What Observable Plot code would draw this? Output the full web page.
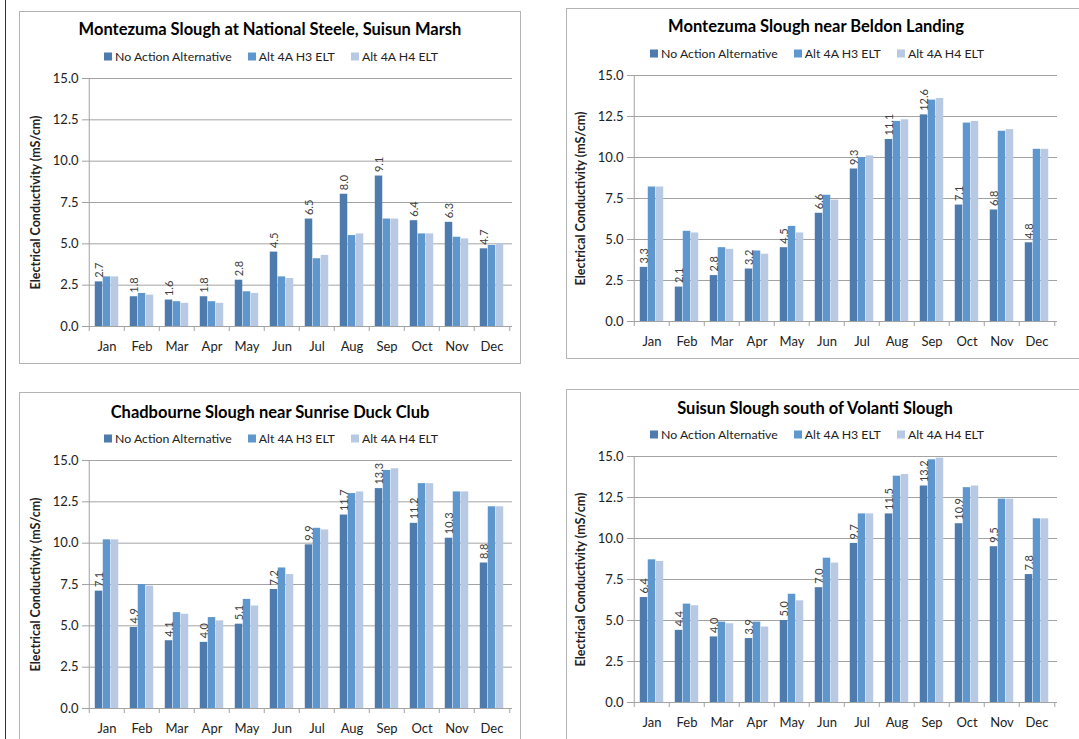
<!DOCTYPE html>
<html><head><meta charset="utf-8">
<script src="https://cdn.jsdelivr.net/npm/d3@7"></script>
<script src="https://cdn.jsdelivr.net/npm/@observablehq/plot@0.6"></script>
<style>
body{margin:0;width:1079px;height:739px;overflow:hidden;background:#fff;font-family:Lato,"Open Sans",sans-serif;position:relative}
.frame{position:absolute;border:1px solid #b4b4b4;box-sizing:border-box;background:#fff}
.title{position:absolute;font-weight:bold;font-size:16.5px;color:#000;transform:translate(-50%,-50%);white-space:nowrap}
.legend{position:absolute;font-size:12.3px;color:#222;transform:translate(-50%,-50%);white-space:nowrap;display:flex;align-items:center}
.legend .item{display:flex;align-items:center;margin-right:16px}
.legend .item:last-child{margin-right:0}
.legend .sw{width:8px;height:8px;margin-right:3px}
.chart{position:absolute}
.chart svg [aria-label="y-axis label"] text{font-weight:bold;font-size:12.5px}
.pageline{position:absolute;left:5px;top:0;width:1px;height:739px;background:#333}
</style></head><body>
<div class="pageline"></div>
<script>
// ---- data ----
const months = ["Jan","Feb","Mar","Apr","May","Jun","Jul","Aug","Sep","Oct","Nov","Dec"];
const seriesNames = ["No Action Alternative","Alt 4A H3 ELT","Alt 4A H4 ELT"];
const yTicks = [0, 2.5, 5, 7.5, 10, 12.5, 15];
const titles = [
  "Montezuma Slough at National Steele, Suisun Marsh",
  "Montezuma Slough near Beldon Landing",
  "Chadbourne Slough near Sunrise Duck Club",
  "Suisun Slough south of Volanti Slough"
];
const yLabel = "Electrical Conductivity (mS/cm)";

const nationalSteeleNAA = [2.7, 1.8, 1.6, 1.8, 2.8, 4.5, 6.5, 8.0, 9.1, 6.4, 6.3, 4.7];
const nationalSteeleH3  = [3.0, 2.0, 1.5, 1.5, 2.1, 3.0, 4.1, 5.5, 6.5, 5.6, 5.4, 4.9];
const nationalSteeleH4  = [3.0, 1.9, 1.4, 1.4, 2.0, 2.9, 4.3, 5.6, 6.5, 5.6, 5.3, 5.0];

const beldonNAA = [3.3, 2.1, 2.8, 3.2, 4.5, 6.6, 9.3, 11.1, 12.6, 7.1, 6.8, 4.8];
const beldonH3  = [8.2, 5.5, 4.5, 4.3, 5.8, 7.7, 10.0, 12.2, 13.5, 12.1, 11.6, 10.5];
const beldonH4  = [8.2, 5.4, 4.4, 4.1, 5.4, 7.4, 10.1, 12.3, 13.6, 12.2, 11.7, 10.5];

const chadbourneNAA = [7.1, 4.9, 4.1, 4.0, 5.1, 7.2, 9.9, 11.7, 13.3, 11.2, 10.3, 8.8];
const chadbourneH3  = [10.2, 7.5, 5.8, 5.5, 6.6, 8.5, 10.9, 13.0, 14.4, 13.6, 13.1, 12.2];
const chadbourneH4  = [10.2, 7.4, 5.7, 5.3, 6.2, 8.1, 10.8, 13.1, 14.5, 13.6, 13.1, 12.2];

const suisunNAA = [6.4, 4.4, 4.0, 3.9, 5.0, 7.0, 9.7, 11.5, 13.2, 10.9, 9.5, 7.8];
const suisunH3  = [8.7, 6.0, 4.9, 4.9, 6.6, 8.8, 11.5, 13.8, 14.8, 13.1, 12.4, 11.2];
const suisunH4  = [8.6, 5.9, 4.8, 4.6, 6.2, 8.5, 11.5, 13.9, 14.9, 13.2, 12.4, 11.2];

const panelSeries = [
  [nationalSteeleNAA, nationalSteeleH3, nationalSteeleH4],
  [beldonNAA, beldonH3, beldonH4],
  [chadbourneNAA, chadbourneH3, chadbourneH4],
  [suisunNAA, suisunH3, suisunH4]
];

// ---- style / layout ----
const colors = ["#4e7bae", "#5e97cd", "#b8c9e3"];
const gridColor = "#a3a3a3";
const layouts = [
  {frame:{x:19,y:11,w:502,h:353}, tx:270, ty:29, lx:271, ly:56, plot:{l:86,r:512,t:78,b:326}},
  {frame:{x:566,y:8,w:560,h:351}, tx:816, ty:26, lx:817, ly:53, plot:{l:631,r:1057,t:75,b:321}},
  {frame:{x:19,y:392,w:502,h:400}, tx:270, ty:412, lx:271, ly:438, plot:{l:86,r:512,t:460,b:708}},
  {frame:{x:566,y:389,w:560,h:400}, tx:815, ty:408, lx:817, ly:434, plot:{l:631,r:1057,t:456,b:702}}
];

function el(tag, cls, parent){ const e=document.createElement(tag); if(cls) e.className=cls; (parent||document.body).appendChild(e); return e; }

layouts.forEach((L, p) => {
  const fr = el("div","frame");
  Object.assign(fr.style,{left:L.frame.x+"px",top:L.frame.y+"px",width:L.frame.w+"px",height:L.frame.h+"px"});
  const t = el("div","title"); t.textContent = titles[p];
  Object.assign(t.style,{left:L.tx+"px",top:L.ty+"px"});
  const lg = el("div","legend");
  Object.assign(lg.style,{left:L.lx+"px",top:L.ly+"px"});
  seriesNames.forEach((s,i)=>{
    const it = el("div","item",lg);
    const sw = el("div","sw",it); sw.style.background = colors[i];
    const tx = el("span","",it); tx.textContent = s;
  });

  const rows = [];
  panelSeries[p].forEach((vals,i)=> vals.forEach((v,m)=> rows.push({month:months[m], series:seriesNames[i], value:v})));

  const left = L.frame.x + 2, top = L.plot.t - 10;
  const mR = 8, mT = 10, mB = 34;
  const width = L.plot.r + mR - left, height = L.plot.b + mB - top;
  const mL = L.plot.l - left;
  const step = (L.plot.r - L.plot.l) / 12;
  const barW = step * 0.225;
  const inset = (step - barW) / 2;

  const marks = [
    Plot.gridY(yTicks, {stroke: gridColor, strokeOpacity: 1}),
    ...seriesNames.map((s,i) => Plot.barY(rows.filter(r=>r.series===s), {
      x:"month", y:"value", fill:"series", dx:(i-1)*barW, insetLeft:inset, insetRight:inset
    })),
    Plot.text(rows.filter(r=>r.series===seriesNames[0]), {
      x:"month", y:"value", text:d=>d3.format(".1f")(d.value), rotate:-90, textAnchor:"start",
      dx:-barW, dy:-4, fontSize:11, fill:"#404040"
    }),
    Plot.ruleY([0], {stroke: gridColor}),
    Plot.ruleX(months, {x:d=>d, y1:0, y2:0, dx:-step/2, insetBottom:-5, stroke:gridColor}),
    Plot.ruleX(months.slice(-1), {x:d=>d, y1:0, y2:0, dx:step/2, insetBottom:-5, stroke:gridColor}),
    Plot.ruleX(months.slice(0,1), {x:d=>d, dx:-step/2, stroke:gridColor}),
    Plot.axisY({ticks:yTicks, tickFormat:d3.format(".1f"), tickSize:4, tickPadding:4, stroke:gridColor,
      label:yLabel, labelAnchor:"center", labelOffset:55, labelArrow:"none", fontSize:13}),
    Plot.axisX({tickSize:0, tickPadding:15, fontSize:13, label:null})
  ];

  const chart = Plot.plot({
    width, height, marginLeft:mL, marginRight:mR, marginTop:mT, marginBottom:mB,
    x:{domain:months, padding:0, label:null},
    y:{domain:[0,15], label:null},
    color:{domain:seriesNames, range:colors},
    style:{fontFamily:"Lato, 'Open Sans', sans-serif", fontSize:"13px", color:"#222", background:"transparent", overflow:"visible"},
    marks
  });
  const wrap = el("div","chart");
  Object.assign(wrap.style,{left:left+"px", top:top+"px"});
  wrap.appendChild(chart);
});
</script></body></html>
